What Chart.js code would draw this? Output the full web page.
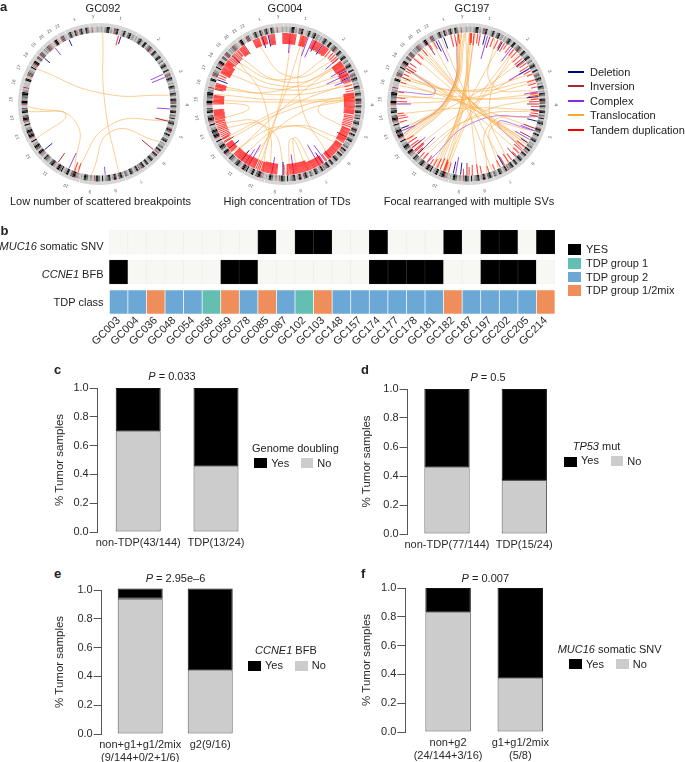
<!DOCTYPE html>
<html><head><meta charset="utf-8">
<script src="https://cdn.jsdelivr.net/npm/chart.js@4"></script>
<style>
html,body{margin:0;padding:0;background:#fff}
#page{position:relative;width:685px;height:762px;overflow:hidden;font-family:"Liberation Sans",Arial,sans-serif;color:#222}
#page canvas{position:absolute}
.t{position:absolute;white-space:nowrap;font-size:11px;line-height:13px}
.s{position:absolute}
</style></head><body><div id="page"></div>
<script>
/* ---------- panel a: ideogram ---------- */
const chromNames=["1","2","3","4","5","6","7","8","9","10","11","12","13","14","15","16","17","18","19","20","21","22","x","y"];
const chromLengths=[249,243,198,191,181,171,159,146,141,136,135,134,115,107,103,90,81,78,59,63,48,51,155,59];
const chromBands=[
"1122112234441221133r4411112244211334412221",
"2211334422114441122334r22114433112244411223",
"113344221144112r3322443311221144331",
"2214433112444r33114422114441133224",
"11334422112r44331144221133441122",
"2233114422r1144221133442211443",
"11443322r144221133441122331",
"22443311r442211443322114",
"1133442r1122113344112",
"1122r4433114422114",
"3344r112244331122334",
"1122r4411334422114",
"11r44334422114",
"12r4433114423",
"11r44223344",
"221r1111144",
"11r3322114",
"22r441133",
"1r33112",
"2233r2211",
"1r4411",
"1r3311",
"1133442211442r113344221144332",
"11r111122"];
const bandShades={"1":"#bcbcbc","2":"#939393","3":"#5a5a5a","4":"#000000","r":"#b83a44"};
const chromGap=2.5;

/* ---------- panel a: structural variants, [length,[angles]] ---------- */
const samples=["GC092","GC004","GC197"];
const captions=["Low number of scattered breakpoints","High concentration of TDs","Focal rearranged with multiple SVs"];
const tdGC092=[[10,[16]],[9,[200,197]]];
const delGC092=[[8,[18]],[7,[335,310]],[10,[230]]];
const invGC092=[[13,[104]],[15,[130]],[11,[215]]];
const cpxGC092=[[9,[322]],[14,[65,68]],[13,[94]],[8,[175]],[17,[205]]];
const tlGC092=[[3,164],[299.5,83],[268,200],[264,241],[199,103],[186,122]];

const tdGC004=[
[11,[-1,0,1,2,3,4,5,6,7,8,9,10,14,15,16,17,18,19,53,54,55,56,57,58,59,81,82,83,84,85,86,87,88,89,90,91,92,93,94,95,96,97,98,160,161,162,163,164,165,166,167,168,169,170,171,172,173,174,175,176,177,186,187,188,189,190,191,192,193,194,195,196,197,257,258,259,260,261,262,263,264,265,270,271,272,273,274,275,276,277,283,284,285,286,287,296,297,298,299,300,301,302,303,304,305,348,349,350,351,352]],
[10,[25,26,28,29,31,32,34,35,37,38,60,61,63,64,65,67,69,100,101.5,103,104.5,106,107.5,109,180,198,199,200.5,202,203.5,205,206,207,208,209,210,212,214,241,242.5,244,245.5,247,248.5,250,251.5,253,254.5,255.5,308,309.5,311,312.5,314,315.5,317,321,322,323,324,325]],
[9,[27,30,36,39,41,66,111,112,113,114,115,116,117,118,119,120,121,122,123,146,147,148,149,150,151,152,153,154,155,156,157,158,159,211,213,215,216,217,218,219,220,221,222,223,224,225,334,335,336,337,338,339,341,342,343,344,345]],
[8,[44,46,48,50,71,74,77,79,125,126,127,128,129,130,131,132,133,134,135,136,137,138,139,140,141,143,228,229,230,231,232,233,234,235,238,240,292,294,306,307,318.5,319.5]]];
const delGC004=[[12,[27,33,347,342]],[9,[62,68]],[13,[147,181,217,231]],[11,[290,313]]];
const invGC004=[[11,[118,237,326]],[9,[139,282]]];
const cpxGC004=[[20,[5,20,24,144,172]],[17,[50,60,70,190,213]],[24,[65,150,210]]];
const tlGC004=[[7,201],[16,140],[315,58],[305,65],[297,70],[278,85],[273,87],[285,75],[272,256],[84,112],[176,160],[170,155],[315,197],[240,72],[238,82],[220,120],[212,85],[335,50],[16,205],[53,225],[282,55],[255,190],[250,178],[228,125],[310,44]];

const tdGC197=[
[12,[2,5,10,346,349,200,203,228,232]],
[10,[3,8,21,25,31,47,50,53,58,83,88,127,131,145,149,172,176,196,199,206,234,237,258,272,302,310,352]],
[8,[28,36,40,43,55,62,70,73,81,86,92,98,134,142,153,169,179,209,215,219,226,240,255,260,275,305,315,320,331]],
[6,[33,65,76,96,137,158,163,184,212,222,262,280,288,295,298,327]]];
const delGC197=[[10,[14,29,52,104]],[12,[60,84,150,186,192,333,340]],[8,[95,123,225,250]]];
const invGC197=[[12,[18,90,110,118,138,181,229,326]],[9,[100,300,292]]];
const cpxGC197=[[24,[16,60,335,225]],[17,[38,120,190,232]],[14,[80,112,248,270]]];
const tlGC197=[[245,355],[243,354],[241,353],[239,355],[244,352],[238,358],[247,357],[205,2],[203,1],[200,3],[198,5],[207,6],[320,125],[318,127],[316,123],[322,129],[311,128],[300,124],[295,122],[285,85],[277,82],[40,200],[45,198],[28,210],[22,80],[172,358],[165,100],[155,112],[225,95],[220,85],[262,95],[288,110],[330,160],[338,150],[52,250],[60,230],[65,290],[72,270],[146,40],[133,300],[300,275],[292,70]];
const cpxLinkGC197=[[352,245],[215,100],[300,280],[130,112]];

/* ---------- panel b ---------- */
const sampleIds=["GC003","GC004","GC036","GC048","GC054","GC058","GC059","GC078","GC085","GC087","GC102","GC103","GC148","GC157","GC174","GC177","GC178","GC181","GC182","GC187","GC197","GC202","GC205","GC214"];
const muc16Row=[0,0,0,0,0,0,0,0,1,0,1,1,0,0,1,0,0,0,1,0,1,1,0,1];
const ccne1Row=[1,0,0,0,0,0,1,1,0,0,0,0,0,0,1,1,1,1,0,0,1,1,1,0];
const tdpRow=[2,2,3,2,2,1,3,2,3,2,1,3,2,2,2,2,2,2,3,2,2,2,2,3];
const tdpColours=["","#62bfb2","#6ca8d5","#ef8e5a"];

/* ---------- panels c-f ---------- */
const cLabels=["non-TDP(43/144)","TDP(13/24)"],cNo=[0.70,0.457],cYes=[0.30,0.543];
const dLabels=["non-TDP(77/144)","TDP(15/24)"],dNo=[0.461,0.373],dYes=[0.539,0.627];
const eLabels=[["non+g1+g1/2mix","(9/144+0/2+1/6)"],"g2(9/16)"],eNo=[0.94,0.442],eYes=[0.07,0.568];
const fLabels=[["non+g2","(24/144+3/16)"],["g1+g1/2mix","(5/8)"]],fNo=[0.831,0.373],fYes=[0.169,0.627];

/* ---------- helpers ---------- */
Chart.defaults.font.family='"Liberation Sans",Arial,sans-serif';
Chart.defaults.color='#2a2a2a';
const page=document.getElementById('page');
function canvas(l,t,w,h){const c=document.createElement('canvas');c.width=w;c.height=h;c.style.cssText=`left:${l}px;top:${t}px;width:${w}px;height:${h}px`;page.appendChild(c);return c;}
function text(x,y,html,o={}){const d=document.createElement('div');d.className='t';d.innerHTML=html;
 const tx=o.a==='c'?'-50%':o.a==='r'?'-100%':'0';d.style.left=x+'px';d.style.top=y+'px';d.style.transform=`translate(${tx},-50%)`;
 if(o.size)d.style.fontSize=o.size+'px';if(o.bold)d.style.fontWeight='bold';page.appendChild(d);}
function box(x,y,w,h,c,b){const d=document.createElement('div');d.className='s';d.style.cssText=`left:${x}px;top:${y}px;width:${w}px;height:${h}px;background:${c};`+(b?`border:1px solid ${b};box-sizing:border-box;`:'');page.appendChild(d);}
const base={responsive:false,animation:false,devicePixelRatio:1,plugins:{legend:{display:false},tooltip:{enabled:false}}};
const KIND={td:'rgba(255,0,0,.7)',del:'#1c1c9c',inv:'#b0303a',cpx:'#9a4de8',tl:'rgba(250,170,70,.58)'};
const ringInner=71.5;
function polar(r,a){const t=a*Math.PI/180;return {x:r*Math.sin(t),y:r*Math.cos(t)};}
function tickPoints(groups){const p=[];groups.forEach(([len,angles])=>angles.forEach(a=>p.push(polar(ringInner-.5,a),polar(ringInner-.5-len,a),{x:NaN,y:NaN})));return p;}
function linkPoints([a,b]){const p=polar(ringInner-.5,a),q=polar(ringInner-.5,b);return [p,{x:(p.x+q.x)/4,y:(p.y+q.y)/4},q];}

/* ---------- circos ---------- */
function ideogram(cx,cy){
 const outer=[],outerC=[],inner=[],innerC=[];
 chromLengths.forEach((len,i)=>{
  outer.push(len,chromGap);outerC.push('#d6d6d6','rgba(0,0,0,0)');
  const b=chromBands[i];
  for(const ch of b){inner.push(len/b.length);innerC.push(bandShades[ch]);}
  inner.push(chromGap);innerC.push('rgba(0,0,0,0)');
 });
 new Chart(canvas(cx-95,cy-95,190,190),{type:'doughnut',data:{datasets:[
  {data:outer,backgroundColor:outerC,borderWidth:0,weight:3.3},
  {data:inner,backgroundColor:innerC,borderWidth:0,weight:6.2}]},
  options:{...base,radius:81,cutout:(ringInner/81*100)+'%',rotation:0,layout:{padding:0}}});
}
const chromLabelPlugin={id:'chromLabels',afterDraw(ch){
 const {ctx,scales:{x,y}}=ch;const total=chromLengths.reduce((s,v)=>s+v+chromGap,0);let run=0;
 ctx.save();ctx.font='4.5px "Liberation Sans"';ctx.fillStyle='#555';ctx.textAlign='center';ctx.textBaseline='middle';
 chromLengths.forEach((len,i)=>{const a=(run+len/2)/total*360;run+=len+chromGap;const p=polar(88,a);
  ctx.save();ctx.translate(x.getPixelForValue(p.x),y.getPixelForValue(p.y));ctx.rotate(a*Math.PI/180);ctx.fillText(chromNames[i],0,0);ctx.restore();});
 ctx.restore();}};
function circos(cx,cy,td,del,inv,cpx,tl,cpxLinks=[]){
 ideogram(cx,cy);
 const tick=(g,c,w)=>({data:tickPoints(g),borderColor:c,borderWidth:w,showLine:true,pointRadius:0,spanGaps:false,tension:0,clip:false});
 const link=(l,c)=>({data:linkPoints(l),borderColor:c,borderWidth:1,showLine:true,pointRadius:0,tension:.5,clip:false});
 const ds=[tick(td,KIND.td,1.1),tick(del,KIND.del,1),tick(inv,KIND.inv,1),tick(cpx,KIND.cpx,1),
  ...tl.map(l=>link(l,KIND.tl)),...cpxLinks.map(l=>link(l,'rgba(154,77,232,.75)'))];
 new Chart(canvas(cx-95,cy-95,190,190),{type:'scatter',data:{datasets:ds},plugins:[chromLabelPlugin],
  options:{...base,layout:{padding:0},scales:{x:{type:'linear',display:false,min:-95,max:95},y:{type:'linear',display:false,min:-95,max:95}}}});
}
circos(99,104,tdGC092,delGC092,invGC092,cpxGC092,tlGC092);
circos(284,104,tdGC004,delGC004,invGC004,cpxGC004,tlGC004);
circos(468,104,tdGC197,delGC197,invGC197,cpxGC197,tlGC197,cpxLinkGC197);
[[103,0],[285,1],[472,2]].forEach(([x,i])=>text(x,8,samples[i],{a:'c'}));
[[100.5,0],[287,1],[469,2]].forEach(([x,i])=>text(x,200.5,captions[i],{a:'c'}));
text(0,6,'a',{bold:true,size:13});
[["Deletion",'#00008b'],["Inversion",'#a52a2a'],["Complex",'#8a2be2'],["Translocation",'#ffa531'],["Tandem duplication",'#ff0000']].forEach(([n,c],i)=>{
 const y=72+i*14.4;box(568,y-1,16,2,c);text(590,y,n);});

/* ---------- heatmap ---------- */
const rowSets=[
 {vals:muc16Row,range:[2,2.8],col:v=>v?'#000':'#f7f8f4'},
 {vals:ccne1Row,range:[1,1.8],col:v=>v?'#000':'#f7f8f4'},
 {vals:tdpRow,range:[0,0.8],col:v=>tdpColours[v]}];
new Chart(canvas(60,230,510,120),{type:'bar',data:{labels:sampleIds,datasets:rowSets.map(r=>({
  data:r.vals.map(()=>r.range),backgroundColor:r.vals.map(r.col),
  borderColor:r.vals.map(v=>r.col===rowSets[2].col?'rgba(255,255,255,.18)':(v?'#222':'#eceee8')),
  borderWidth:.7,borderSkipped:false,grouped:false,barPercentage:1,categoryPercentage:1}))},
 options:{...base,layout:{padding:{left:49.3,right:15,top:0,bottom:0}},scales:{
  x:{offset:true,grid:{display:false,drawTicks:false},border:{display:false},
     afterFit:s=>{s.height=36},
     ticks:{autoSkip:false,maxRotation:45,minRotation:45,padding:0,font:{size:11},color:'#2a2a2a'}},
  y:{display:false,min:0,max:2.8}}}});
text(0.5,230,'b',{bold:true,size:13});
text(103.5,246,'<i>MUC16</i> somatic SNV',{a:'r'});
text(103.5,274,'<i>CCNE1</i> BFB',{a:'r'});
text(103.5,302,'TDP class',{a:'r'});
[["YES",'#000',249.3],["TDP group 1",tdpColours[1],263.3],["TDP group 2",tdpColours[2],276.8],["TDP group 1/2mix",tdpColours[3],290.3]].forEach(([n,c,y])=>{
 box(568.3,y-5.3,13,10.6,c);text(586,y,n);});

/* ---------- stacked bars ---------- */
function bars(o,labels,no,yes){
 const sp=o.c2-o.c1,chartR=o.c2+sp/2,left=o.titleX-7,padT=8,padR=45,axisH=32;
 const w=Math.ceil(chartR+padR-left),h=Math.round(o.y0-o.y1)+padT+axisH;
 const xv=[1,2];
 new Chart(canvas(left,o.y1-padT,w,h),{type:'bar',data:{datasets:[
  {data:no.map((v,i)=>({x:xv[i],y:v})),backgroundColor:'#cccccc',borderColor:'#555',borderWidth:1,borderSkipped:false,clip:false},
  {data:yes.map((v,i)=>({x:xv[i],y:v})),backgroundColor:'#000',borderColor:'#111',borderWidth:1,borderSkipped:false,clip:false}]},
  options:{...base,barPercentage:o.bw/sp,categoryPercentage:1,
   layout:{padding:{left:0,right:w-(chartR-left),top:padT,bottom:0}},
   scales:{
    x:{type:'linear',stacked:true,offset:false,min:1-(o.c1-o.axis)/sp,max:2.5,
       grid:{display:false,drawTicks:false,offset:false},border:{display:false},
       afterBuildTicks:s=>{s.ticks=xv.map(v=>({value:v}));},
       afterFit:s=>{s.height=axisH},
       ticks:{callback:(v,i)=>labels[i],autoSkip:false,maxRotation:0,padding:4,font:{size:11,lineHeight:1.2},color:'#2a2a2a'}},
    y:{stacked:true,min:0,max:1,afterFit:s=>{s.width=o.axis-left},
       grid:{drawOnChartArea:false,drawTicks:true,tickLength:8,tickColor:'#555',tickWidth:1},
       border:{display:true,color:'#555',width:1},
       ticks:{stepSize:.2,padding:1,font:{size:11},color:'#2a2a2a',callback:v=>(+v).toFixed(1)},
       title:{display:true,text:'% Tumor samples',font:{size:11.5},color:'#2a2a2a',padding:0}}}}});
}
bars({titleX:60,axis:97.7,y1:388.3,y0:532.7,c1:138.2,c2:216,bw:45},cLabels,cNo,cYes);
bars({titleX:366.7,axis:407.3,y1:389.3,y0:534,c1:446.7,c2:524,bw:45.3},dLabels,dNo,dYes);
bars({titleX:60,axis:101.7,y1:590,y0:734,c1:140.2,c2:210.2,bw:45},eLabels,eNo,eYes);
bars({titleX:366.7,axis:405,y1:588.3,y0:732.3,c1:447.8,c2:520,bw:45.5},fLabels,fNo,fYes);

function panelText(letter,lx,ly,pText,px,py,title,tx,ty,sy,yesSw,yesT,noSw,noT,tyY,tyN,syN){
 text(lx,ly,letter,{bold:true,size:13});
 text(px,py,'<i>P</i> = '+pText,{a:'c'});
 text(tx,ty,title);
 box(yesSw,sy,12.7,10,'#000');text(yesT,tyY,'Yes');
 box(noSw,syN,12.7,10,'#cccccc');text(noT,tyN,'No');
}
panelText('c',54,369,'0.033',172,375.7,'Genome doubling',252,448.3,458.3,254,271.3,300.7,317.3,463.3,463.3,458.3);
panelText('d',361,369,'0.5',488,376.7,'<i>TP53</i> mut',572.7,446,457.3,564.3,581,610.7,627.3,460,461,456);
panelText('e',54,573,'2.95e–6',175.5,578,'<i>CCNE1</i> BFB',255,650,660.7,248.3,265,295,311.7,665.3,665.3,660.7);
panelText('f',361,573,'0.007',485.3,578,'<i>MUC16</i> somatic SNV',557.7,648.7,659,569.3,586,616,632.7,663.7,663.7,659);
</script></body></html>
